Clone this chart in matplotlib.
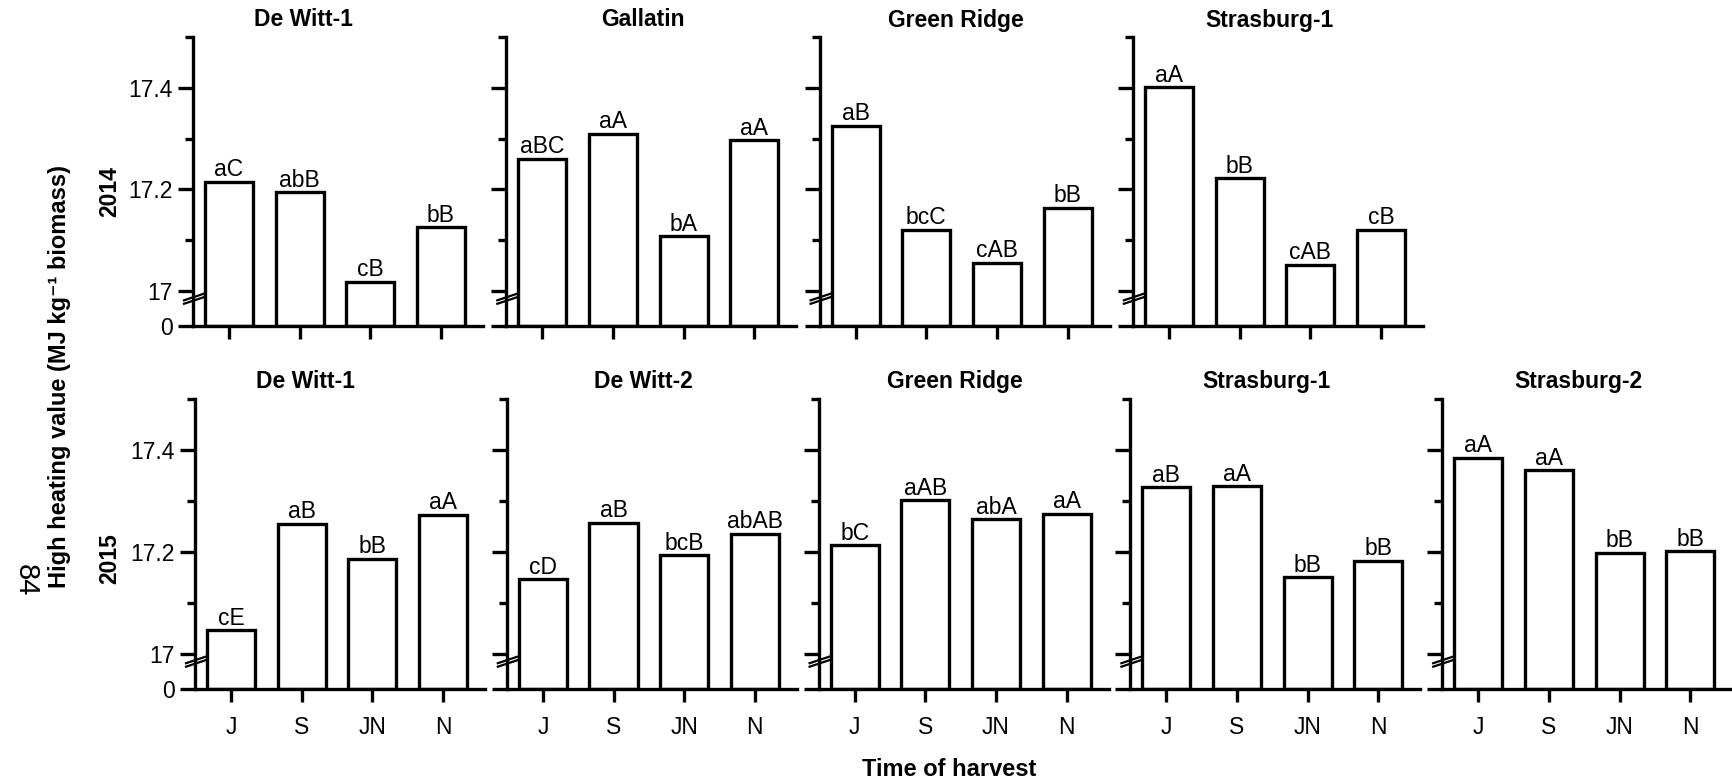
import numpy as np
import matplotlib
matplotlib.use('Agg')
from matplotlib import pyplot as plt
from matplotlib.lines import Line2D

plt.rcParams['font.family'] = ['Liberation Sans', 'DejaVu Sans']

# harvest times and sites
months = ['J', 'S', 'JN', 'N']

sites_2014 = ['De Witt-1', 'Gallatin', 'Green Ridge', 'Strasburg-1']
hhv_2014 = [
    [17.215, 17.194, 17.018, 17.125],
    [17.260, 17.310, 17.108, 17.297],
    [17.325, 17.120, 17.056, 17.164],
    [17.401, 17.222, 17.051, 17.120],
]
letters_2014 = [
    ['aC', 'abB', 'cB', 'bB'],
    ['aBC', 'aA', 'bA', 'aA'],
    ['aB', 'bcC', 'cAB', 'bB'],
    ['aA', 'bB', 'cAB', 'cB'],
]

sites_2015 = ['De Witt-1', 'De Witt-2', 'Green Ridge', 'Strasburg-1', 'Strasburg-2']
hhv_2015 = [
    [17.046, 17.255, 17.186, 17.273],
    [17.146, 17.257, 17.193, 17.236],
    [17.213, 17.301, 17.264, 17.275],
    [17.327, 17.329, 17.150, 17.183],
    [17.385, 17.360, 17.198, 17.201],
]
letters_2015 = [
    ['cE', 'aB', 'bB', 'aA'],
    ['cD', 'aB', 'bcB', 'abAB'],
    ['bC', 'aAB', 'abA', 'aA'],
    ['aB', 'aA', 'bB', 'bB'],
    ['aA', 'aA', 'bB', 'bB'],
]

BASE = 16.931  # the "0" level below the axis break
W, H = 1732, 784
LW = 2.4
FS = 16.5


def draw_panel(ax, title, values, letters, first_col, show_xlabels):
    x = np.arange(len(months))
    vals = np.array(values)
    ax.bar(x, vals - BASE, bottom=BASE, width=0.68, color='white',
           edgecolor='black', linewidth=LW, zorder=2)
    for xi, v, lab in zip(x, vals, letters):
        ax.annotate(lab, (xi, v), xytext=(0, 4), textcoords='offset points',
                    ha='center', va='baseline', fontsize=FS)
    ax.set_xlim(-0.51, 3.594)
    ax.set_ylim(BASE, 17.5)
    for s in ['top', 'right']:
        ax.spines[s].set_visible(False)
    for s in ['left', 'bottom']:
        ax.spines[s].set_linewidth(LW)
        ax.spines[s].set_zorder(3)
    ax.set_yticks([BASE, 17.0, 17.2, 17.4])
    ax.set_yticks([17.1, 17.3, 17.5], minor=True)
    if first_col:
        ax.set_yticklabels(['0', '17', '17.2', '17.4'])
    else:
        ax.set_yticklabels([])
    ax.set_xticks(x)
    if show_xlabels:
        ax.set_xticklabels(months)
    else:
        ax.set_xticklabels([])
    ax.tick_params(axis='y', which='major', length=10.8, width=LW, labelsize=FS, pad=4)
    ax.tick_params(axis='y', which='minor', length=5.8, width=LW)
    ax.tick_params(axis='x', which='major', length=9.4, width=LW, labelsize=FS, pad=10)
    ax.text(0.38 if first_col else 0.47, 1 + 17 / 289, title, transform=ax.transAxes,
            ha='center', va='center', fontsize=FS, fontweight='bold')
    # axis break marks
    yb = (16.985 - BASE) / (17.5 - BASE)
    for dy in (-0.006, 0.006):
        ax.add_line(Line2D([-0.031, 0.041], [yb + dy - 0.012, yb + dy + 0.012],
                           transform=ax.transAxes, color='black', lw=1.6,
                           clip_on=False, zorder=4))


fig = plt.figure(figsize=(W / 100, H / 100), dpi=100)

for i, (site, vals, labs) in enumerate(zip(sites_2014, hhv_2014, letters_2014)):
    left = 193 + 313.3 * i
    ax = fig.add_axes([left / W, 1 - 326 / H, 290 / W, 289 / H])
    draw_panel(ax, site, vals, labs, i == 0, False)

for i, (site, vals, labs) in enumerate(zip(sites_2015, hhv_2015, letters_2015)):
    left = 195 + 311.8 * i
    ax = fig.add_axes([left / W, 1 - 689 / H, 290 / W, 290 / H])
    draw_panel(ax, site, vals, labs, i == 0, True)

fig.text(110 / W, 1 - 192 / H, '2014', rotation=90, ha='center', va='center',
         fontsize=FS, fontweight='bold')
fig.text(110 / W, 1 - 559 / H, '2015', rotation=90, ha='center', va='center',
         fontsize=FS, fontweight='bold')
fig.text(60 / W, 1 - 376 / H, 'High heating value (MJ kg\u207b\u00b9 biomass)',
         rotation=90, ha='center', va='center', fontsize=17, fontweight='bold')
fig.text(949 / W, 1 - 770 / H, 'Time of harvest', ha='center', va='center',
         fontsize=17, fontweight='bold')
fig.text(26 / W, 1 - 580 / H, '84', rotation=270, ha='center', va='center', fontsize=21)

fig.savefig('out.png', dpi=100)
